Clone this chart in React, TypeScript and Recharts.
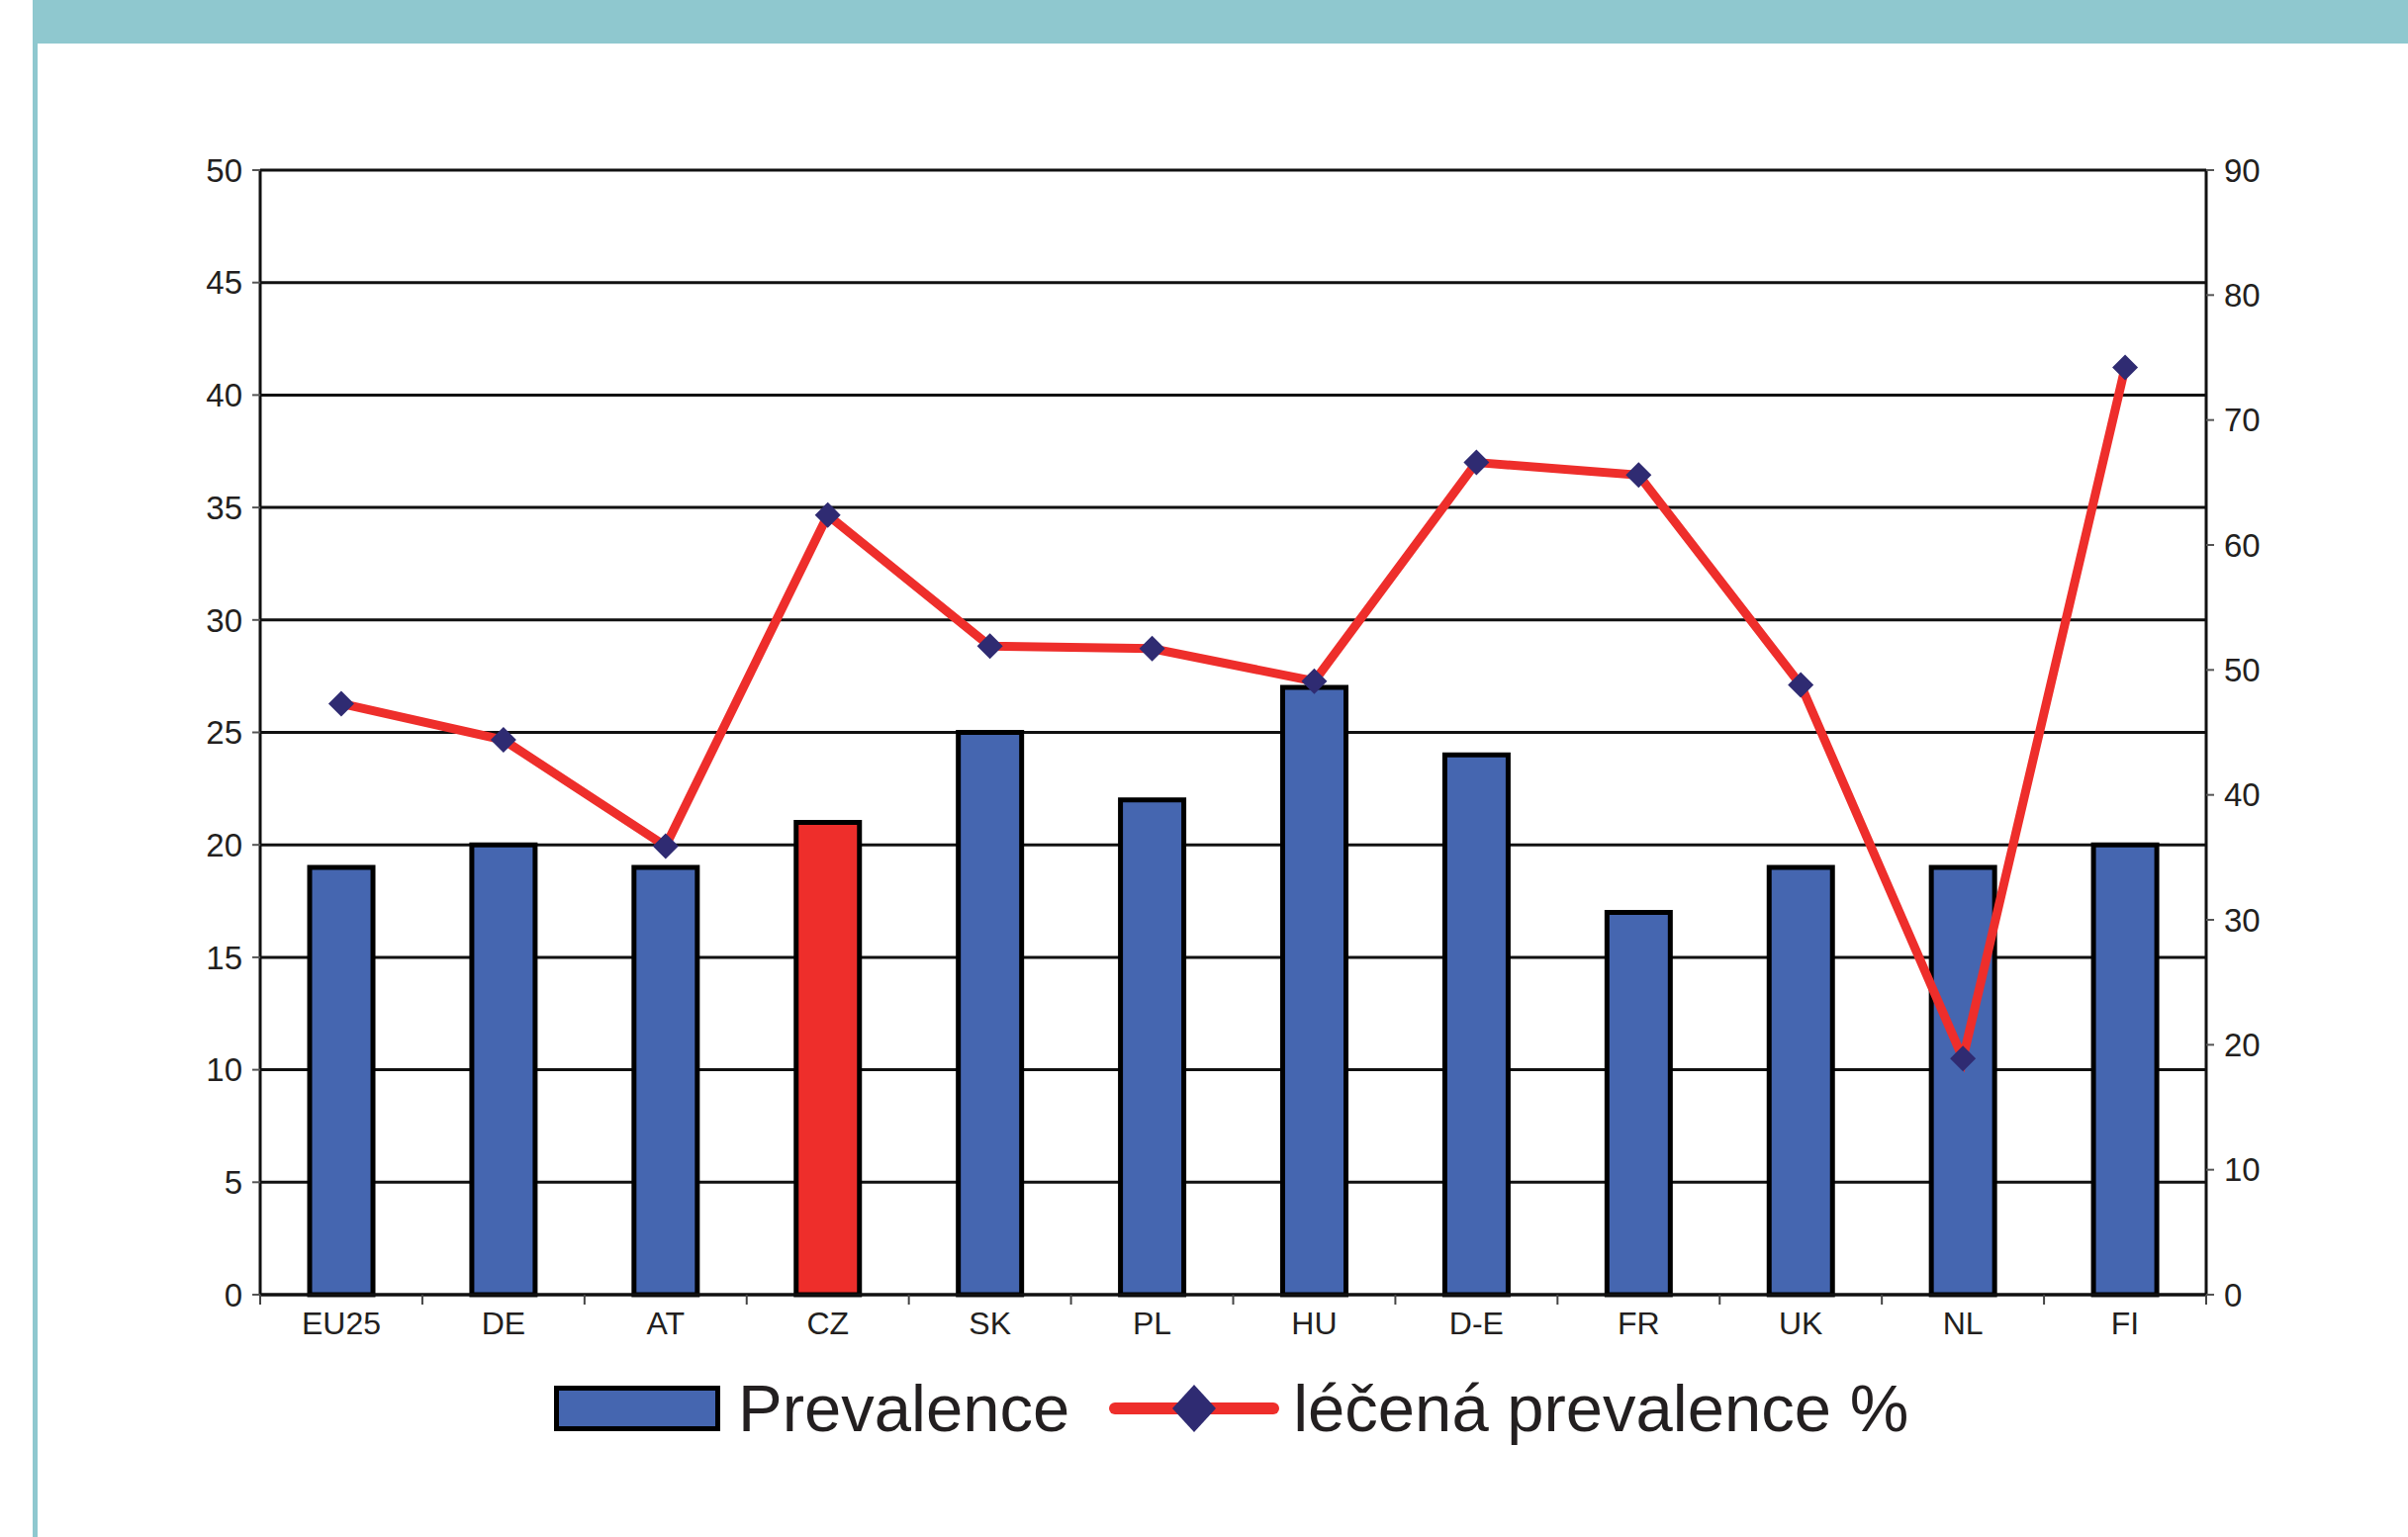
import React from "react";
import { ComposedChart, Bar, Line, XAxis, YAxis, CartesianGrid, Cell } from "recharts";

const categories = ["EU25", "DE", "AT", "CZ", "SK", "PL", "HU", "D-E", "FR", "UK", "NL", "FI"];
const prevalence = [19, 20, 19, 21, 25, 22, 27, 24, 17, 19, 19, 20];
const treated = [47.3, 44.4, 35.9, 62.4, 51.9, 51.7, 49.1, 66.6, 65.6, 48.8, 18.9, 74.2];
const leftTicks = [0, 5, 10, 15, 20, 25, 30, 35, 40, 45, 50];
const rightTicks = [0, 10, 20, 30, 40, 50, 60, 70, 80, 90];
const highlight = "CZ";

const data = categories.map((c, i) => ({ name: c, prevalence: prevalence[i], treated: treated[i] }));

const W = 2434;
const H = 1554;
const PLOT_LEFT = 263;
const PLOT_RIGHT = 2230;
const PLOT_TOP = 172;
const PLOT_BOTTOM = 1309;
const BAND = (PLOT_RIGHT - PLOT_LEFT) / categories.length;

const BLUE = "#4566b0";
const RED = "#ee2e2b";
const NAVY = "#2f2b72";
const FONT = "'Liberation Sans', Arial, sans-serif";
const TEXT = "#231f20";

// diamond marker, fixed half-diagonal
const Diamond = (props: any) => {
  const { cx, cy } = props;
  if (cx == null || cy == null) return null;
  const r = 13;
  return (
    <path
      d={`M${cx},${cy - r} L${cx + r},${cy} L${cx},${cy + r} L${cx - r},${cy} Z`}
      fill={NAVY}
    />
  );
};

const CatTick = (props: any) => {
  const { x, payload, index } = props;
  const last = index === categories.length - 1;
  return (
    <g>
      <line x1={x - BAND / 2} x2={x - BAND / 2} y1={PLOT_BOTTOM} y2={PLOT_BOTTOM + 10} stroke="#444" strokeWidth={2} />
      {last && (
        <line x1={x + BAND / 2} x2={x + BAND / 2} y1={PLOT_BOTTOM} y2={PLOT_BOTTOM + 10} stroke="#444" strokeWidth={2} />
      )}
      <text x={x} y={PLOT_BOTTOM + 17} dy="0.71em" textAnchor="middle" fontSize={32} fill={TEXT} fontFamily={FONT}>
        {payload.value}
      </text>
    </g>
  );
};

export default function App() {
  return (
    <div style={{ position: "relative", width: W, height: H, background: "#fff", overflow: "hidden", fontFamily: FONT }}>
      <style>{`body{margin:0}`}</style>
      <div style={{ position: "absolute", left: 33, top: 0, width: W - 33, height: 44, background: "#8fc8cf" }} />
      <div style={{ position: "absolute", left: 33, top: 44, width: 5, height: H - 44, background: "#8fc8cf" }} />

      <div style={{ position: "absolute", left: 0, top: 0 }}>
        <ComposedChart
          width={W}
          height={H}
          data={data}
          margin={{ top: PLOT_TOP, left: PLOT_LEFT - 100, right: W - PLOT_RIGHT - 100, bottom: H - PLOT_BOTTOM - 60 }}
        >
          <CartesianGrid yAxisId="left" vertical={false} stroke="#111" strokeWidth={3} strokeOpacity={1} />
          <XAxis
            dataKey="name"
            height={60}
            axisLine={{ stroke: "#111", strokeWidth: 3 }}
            tickLine={false}
            tick={<CatTick />}
            interval={0}
          />
          <YAxis
            yAxisId="left"
            width={100}
            domain={[0, 50]}
            ticks={leftTicks}
            interval={0}
            axisLine={{ stroke: "#111", strokeWidth: 3 }}
            tickLine={{ stroke: "#555", strokeWidth: 2 }}
            tickSize={8}
            tickMargin={10}
            tick={{ fontSize: 33, fill: TEXT, fontFamily: FONT }}
          />
          <YAxis
            yAxisId="right"
            orientation="right"
            width={100}
            domain={[0, 90]}
            ticks={rightTicks}
            interval={0}
            axisLine={{ stroke: "#111", strokeWidth: 3 }}
            tickLine={{ stroke: "#555", strokeWidth: 2 }}
            tickSize={8}
            tickMargin={10}
            tick={{ fontSize: 33, fill: TEXT, fontFamily: FONT, textAnchor: "start" }}
          />
          <Bar yAxisId="left" dataKey="prevalence" barSize={64} stroke="#000" strokeWidth={5} isAnimationActive={false}>
            {data.map((d) => (
              <Cell key={d.name} fill={d.name === highlight ? RED : BLUE} />
            ))}
          </Bar>
          <Line
            yAxisId="right"
            dataKey="treated"
            type="linear"
            stroke={RED}
            strokeWidth={9}
            dot={<Diamond />}
            activeDot={false}
            isAnimationActive={false}
          />
        </ComposedChart>
      </div>

      <div
        style={{
          position: "absolute",
          left: 560,
          top: 1386,
          display: "flex",
          alignItems: "center",
          fontSize: 67,
          color: TEXT,
          lineHeight: "76px",
          whiteSpace: "nowrap",
        }}
      >
        <svg width={168} height={46} style={{ display: "block" }}>
          <rect x={2.5} y={2.5} width={163} height={41} fill={BLUE} stroke="#000" strokeWidth={5} />
        </svg>
        <span style={{ marginLeft: 18 }}>Prevalence</span>
        <svg width={172} height={52} style={{ display: "block", marginLeft: 40 }}>
          <line x1={6} x2={166} y1={26} y2={26} stroke={RED} strokeWidth={12} strokeLinecap="round" />
          <path d="M86,2 L108,26 L86,50 L64,26 Z" fill={NAVY} />
        </svg>
        <span style={{ marginLeft: 14 }}>léčená prevalence %</span>
      </div>
    </div>
  );
}
